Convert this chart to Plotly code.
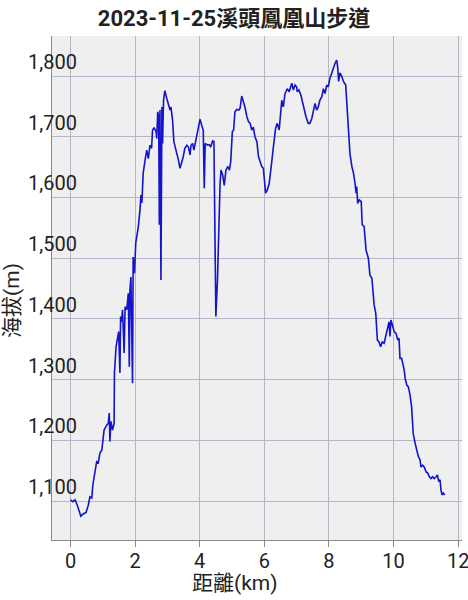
import plotly.graph_objects as go

title_text = "2023-11-25溪頭鳳凰山步道"
x_label = "距離(km)"
y_label = "海拔(m)"

distance_km = [
    0.00, 0.07, 0.14, 0.21, 0.32, 0.40, 0.48, 0.55, 0.60, 0.66, 0.69, 0.76, 0.81, 0.86, 0.91, 0.97,
    1.00, 1.04, 1.12, 1.17, 1.20, 1.22, 1.25, 1.30, 1.35, 1.36, 1.41, 1.45, 1.49, 1.53, 1.55, 1.58,
    1.61, 1.66, 1.69, 1.74, 1.79, 1.82, 1.84, 1.87, 1.92, 1.94, 1.98, 2.02, 2.10, 2.15, 2.18, 2.21,
    2.25, 2.31, 2.36, 2.41, 2.46, 2.51, 2.54, 2.59, 2.65, 2.67, 2.70, 2.73, 2.75, 2.77, 2.80, 2.83,
    2.85, 2.88, 2.92, 2.98, 3.03, 3.08, 3.11, 3.16, 3.20, 3.27, 3.34, 3.39, 3.44, 3.49, 3.54, 3.60,
    3.65, 3.70, 3.73, 3.78, 3.82, 3.85, 3.89, 3.93, 3.98, 4.01, 4.06, 4.11, 4.14, 4.17, 4.24, 4.30,
    4.34, 4.40, 4.44, 4.47, 4.50, 4.55, 4.58, 4.63, 4.66, 4.71, 4.76, 4.81, 4.87, 4.92, 4.96, 5.01,
    5.05, 5.09, 5.15, 5.21, 5.25, 5.30, 5.35, 5.40, 5.46, 5.51, 5.56, 5.61, 5.66, 5.71, 5.77, 5.82,
    5.87, 5.92, 5.97, 6.00, 6.04, 6.09, 6.15, 6.20, 6.25, 6.30, 6.35, 6.40, 6.46, 6.54, 6.59, 6.64,
    6.71, 6.77, 6.85, 6.90, 6.95, 7.00, 7.02, 7.07, 7.13, 7.18, 7.23, 7.29, 7.36, 7.41, 7.47, 7.52,
    7.57, 7.62, 7.67, 7.72, 7.78, 7.83, 7.88, 7.93, 7.98, 8.03, 8.09, 8.14, 8.19, 8.24, 8.27, 8.30,
    8.34, 8.40, 8.45, 8.52, 8.55, 8.60, 8.65, 8.71, 8.76, 8.81, 8.84, 8.86, 8.89, 8.94, 9.00, 9.03,
    9.09, 9.15, 9.22, 9.27, 9.33, 9.40, 9.45, 9.50, 9.55, 9.60, 9.65, 9.71, 9.76, 9.81, 9.86, 9.89,
    9.92, 9.98, 10.02, 10.08, 10.13, 10.17, 10.20, 10.25, 10.28, 10.33, 10.36, 10.41, 10.46, 10.51,
    10.56, 10.61, 10.67, 10.72, 10.77, 10.82, 10.85, 10.90, 10.95, 11.01, 11.06, 11.11, 11.16, 11.21,
    11.26, 11.32, 11.36, 11.40, 11.44, 11.47, 11.50, 11.54, 11.59,
]

elevation_m = [
    1102, 1099, 1102, 1093, 1075, 1079, 1081, 1093, 1107, 1105, 1126, 1146, 1165, 1163, 1179, 1184,
    1198, 1217, 1225, 1228, 1245, 1198, 1231, 1217, 1228, 1311, 1354, 1371, 1379, 1311, 1404, 1395,
    1415, 1344, 1420, 1415, 1442, 1321, 1447, 1469, 1294, 1502, 1475, 1525, 1552, 1579, 1604, 1591,
    1640, 1662, 1678, 1664, 1686, 1681, 1711, 1715, 1708, 1697, 1741, 1733, 1555, 1744, 1464, 1749,
    1689, 1760, 1776, 1763, 1752, 1744, 1749, 1727, 1692, 1678, 1662, 1648, 1656, 1667, 1681, 1686,
    1683, 1670, 1686, 1689, 1678, 1686, 1695, 1705, 1722, 1729, 1719, 1711, 1615, 1689, 1686, 1687,
    1683, 1693, 1692, 1574, 1404, 1464, 1546, 1623, 1645, 1637, 1620, 1645, 1651, 1645, 1659, 1708,
    1711, 1741, 1745, 1744, 1747, 1767, 1758, 1749, 1733, 1725, 1722, 1711, 1716, 1700, 1692, 1667,
    1659, 1651, 1648, 1634, 1607, 1612, 1623, 1645, 1673, 1692, 1714, 1722, 1711, 1760, 1749, 1771,
    1779, 1774, 1788, 1777, 1785, 1782, 1774, 1777, 1769, 1758, 1744, 1733, 1722, 1722, 1730, 1744,
    1755, 1744, 1749, 1760, 1766, 1779, 1771, 1785, 1782, 1796, 1806, 1815, 1821, 1826, 1815, 1791,
    1805, 1799, 1791, 1785, 1760, 1722, 1673, 1651, 1640, 1623, 1607, 1618, 1590, 1596, 1593, 1555,
    1552, 1513, 1500, 1472, 1467, 1423, 1409, 1365, 1362, 1354, 1362, 1360, 1371, 1387, 1395, 1371,
    1398, 1387, 1379, 1376, 1365, 1368, 1335, 1335, 1329, 1316, 1302, 1291, 1288, 1275,
    1255, 1211, 1195, 1184, 1173, 1168, 1156, 1159, 1156, 1148, 1146, 1140, 1137, 1140,
    1137, 1140, 1143, 1132, 1135, 1118, 1110, 1113, 1110,
]

x_ticks = [0, 2, 4, 6, 8, 10, 12]
y_ticks = [1100, 1200, 1300, 1400, 1500, 1600, 1700, 1800]

font_family = "Roboto, 'Noto Sans CJK TC', sans-serif"
grid_color = "#b6b6c8"

fig = go.Figure()
fig.add_trace(go.Scatter(
    x=distance_km, y=elevation_m, mode="lines",
    line=dict(color="#1414cc", width=1.6),
    showlegend=False,
))

fig.update_layout(
    width=468, height=600,
    margin=dict(l=52, r=6, t=36, b=60),
    paper_bgcolor="white",
    plot_bgcolor="#efefef",
    font=dict(family=font_family, color="#222222"),
    title=dict(
        text=f"<b>{title_text}</b>",
        x=0.5, xref="container", xanchor="center",
        y=0.97, yref="container", yanchor="middle",
        font=dict(size=22, color="#222222", family=font_family),
    ),
    annotations=[
        dict(text=x_label, xref="paper", yref="paper", x=0.446, y=-0.085,
             xanchor="center", yanchor="middle", showarrow=False,
             font=dict(size=21, color="#222222")),
        dict(text=y_label, xref="paper", yref="paper", x=-0.098, y=0.476,
             xanchor="center", yanchor="middle", showarrow=False, textangle=-90,
             font=dict(size=21, color="#222222")),
    ],
)

fig.update_xaxes(
    range=[-0.573, 12.12],
    tickvals=x_ticks,
    automargin=False,
    showgrid=True, gridcolor=grid_color, gridwidth=1,
    zeroline=False,
    showline=True, linecolor="#888888", linewidth=1,
    ticks="outside", ticklen=6, tickcolor="#888888",
    ticklabelstandoff=-3,
    ticklabeloverflow="allow",
    tickfont=dict(size=20, color="#222222"),
)
fig.update_yaxes(
    range=[1035.8, 1865.9],
    tickvals=y_ticks,
    tickformat=",d",
    automargin=False,
    showgrid=True, gridcolor=grid_color, gridwidth=1,
    zeroline=False,
    showline=True, linecolor="#888888", linewidth=1,
    ticks="",
    ticklabelposition="outside top",
    ticklabelstandoff=-30,
    ticklabeloverflow="allow",
    tickfont=dict(size=20, color="#222222"),
)

fig.write_html(
    "out.html",
    config={"displayModeBar": False},
    post_script="document.body.style.margin='0';document.body.style.overflow='hidden';",
)
